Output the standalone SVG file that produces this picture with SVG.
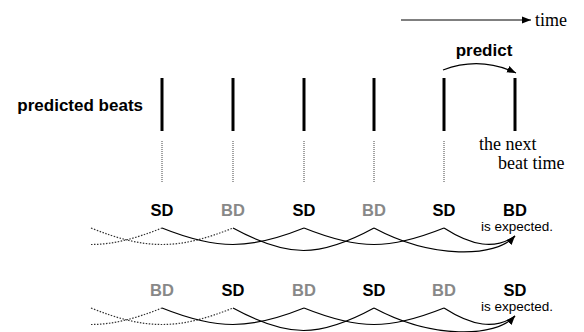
<svg xmlns="http://www.w3.org/2000/svg" width="584" height="332" viewBox="0 0 584 332">
<style>
.bold{font-family:"Liberation Sans",Arial,sans-serif;font-weight:bold;font-size:16.5px;text-anchor:middle}
.big{font-size:17px}
.grey{fill:#888}
.blk{fill:#000}
.small{font-family:"Liberation Sans",Arial,sans-serif;font-size:13.5px;text-anchor:middle;fill:#000}
.serif{font-family:"Liberation Serif","Times New Roman",serif;font-size:18px;fill:#000}
.beat{stroke:#000;stroke-width:3}
.vdot{stroke:#444;stroke-width:1;stroke-dasharray:1,1}
.arc{fill:none;stroke:#000;stroke-width:1.2}
.darc{fill:none;stroke:#333;stroke-width:1.2;stroke-dasharray:1.5,1.5}
</style>
<defs>
<marker id="ah" markerUnits="userSpaceOnUse" markerWidth="10" markerHeight="8" refX="9" refY="4" orient="auto">
<path d="M0,0.5 L9,4 L0,7.5 Z" fill="#000"/>
</marker>
</defs>

<g id="time-axis">
<line x1="401" y1="20" x2="531" y2="20" stroke="#000" stroke-width="1" marker-end="url(#ah)"/>
<text class="serif" x="535" y="26">time</text>
</g>

<g id="predicted-beats-label">
<text class="bold big" x="143" y="111" style="text-anchor:end">predicted beats</text>
</g>

<g id="beats">
<line class="beat" x1="162" y1="78" x2="162" y2="131"/>
<line class="beat" x1="233" y1="78" x2="233" y2="131"/>
<line class="beat" x1="304" y1="78" x2="304" y2="131"/>
<line class="beat" x1="374" y1="78" x2="374" y2="131"/>
<line class="beat" x1="444" y1="78" x2="444" y2="131"/>
<line class="beat" x1="515" y1="78" x2="515" y2="131"/>
</g>

<g id="beat-guides">
<line class="vdot" x1="162" y1="141" x2="162" y2="183"/>
<line class="vdot" x1="233" y1="141" x2="233" y2="183"/>
<line class="vdot" x1="304" y1="141" x2="304" y2="183"/>
<line class="vdot" x1="374" y1="141" x2="374" y2="183"/>
<line class="vdot" x1="444" y1="141" x2="444" y2="183"/>
</g>

<g id="predict-label">
<text class="bold big" x="484" y="56">predict</text>
</g>

<g id="next-beat-label">
<text class="serif" x="479" y="150">the next</text>
<text class="serif" x="498" y="169">beat time</text>
</g>

<g id="row1-labels">
<text class="bold blk" x="162" y="216">SD</text>
<text class="bold grey" x="233" y="216">BD</text>
<text class="bold blk" x="304" y="216">SD</text>
<text class="bold grey" x="374" y="216">BD</text>
<text class="bold blk" x="444" y="216">SD</text>
<text class="bold blk" x="515" y="216">BD</text>
<text class="small" x="517" y="231">is expected.</text>
</g>

<g id="row2-labels">
<text class="bold grey" x="162" y="296">BD</text>
<text class="bold blk" x="233" y="296">SD</text>
<text class="bold grey" x="304" y="296">BD</text>
<text class="bold blk" x="374" y="296">SD</text>
<text class="bold grey" x="444" y="296">BD</text>
<text class="bold blk" x="515" y="296">SD</text>
<text class="small" x="517" y="311">is expected.</text>
</g>

<g id="connectors">
<path class="arc" d="M443,70 Q480,56 516,73" marker-end="url(#ah)"/>

<g id="row1-arcs">
<path class="darc" d="M91,244.5 C112.75,244.5 134.5,239 162,228"/>
<path class="darc" d="M91,228 C146,250 178,250 233,228"/>
<path class="arc" d="M162,228 C217,250 249,250 304,228"/>
<path class="arc" d="M233,228 C288,258 319,258 374,228"/>
<path class="arc" d="M304,228 C359,250 389,250 444,228"/>
<path class="arc" d="M444,228 C472,246 495,250 515,236"/>
<path class="arc" d="M374,228 C432,259 495,258 515,236" marker-end="url(#ah)"/>
</g>

<g id="row2-arcs">
<path class="darc" d="M91,324.5 C112.75,324.5 134.5,319 162,308"/>
<path class="darc" d="M91,308 C146,330 178,330 233,308"/>
<path class="arc" d="M162,308 C217,330 249,330 304,308"/>
<path class="arc" d="M233,308 C288,338 319,338 374,308"/>
<path class="arc" d="M304,308 C359,330 389,330 444,308"/>
<path class="arc" d="M444,308 C472,326 495,330 515,316"/>
<path class="arc" d="M374,308 C432,339 495,338 515,316" marker-end="url(#ah)"/>
</g>
</g>
</svg>
